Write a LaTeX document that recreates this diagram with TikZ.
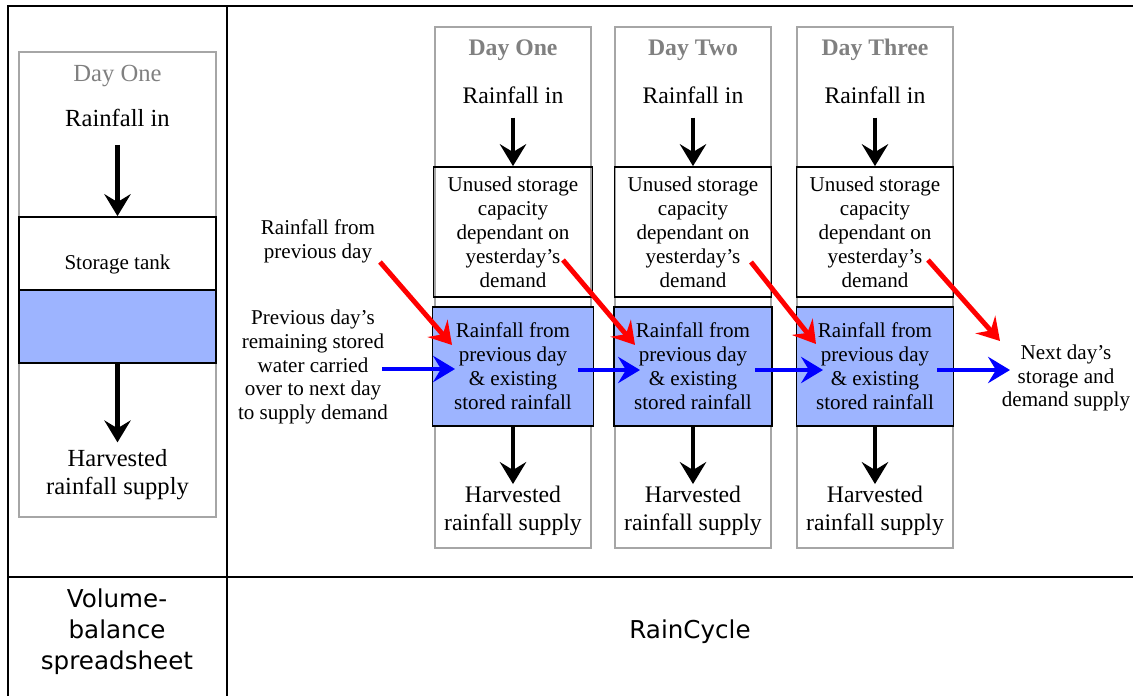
\documentclass[tikz,border=0pt]{standalone}
\usepackage{fontspec}
\setmainfont{Liberation Serif}
\newfontfamily\tablefont{DejaVu Sans}
\usetikzlibrary{arrows.meta}

\definecolor{tankblue}{RGB}{157,180,255}
\definecolor{daygray}{RGB}{128,128,128}

\begin{document}
\begin{tikzpicture}[x=0.02cm,y=-0.02cm]
\tikzstyle{colbox}=[draw=gray!70,line width=1pt,inner sep=0pt]
\tikzstyle{tank}=[draw,line width=1pt,inner sep=0pt]
\tikzstyle{water}=[tank,fill=tankblue]
\tikzstyle{txt}=[align=center,font=\fontsize{13.5}{16}\selectfont,inner sep=1pt]
\tikzstyle{smalltxt}=[align=center,font=\fontsize{12}{13.6}\selectfont,inner sep=1pt]
\tikzstyle{daytitle}=[text=daygray,font=\fontsize{13.5}{16}\selectfont\bfseries]
\tikzstyle{flow}=[line width=2.8pt,-{Stealth[length=12.5pt,width=15pt,inset=4.5pt]}]
\tikzstyle{carry}=[flow,blue]
\tikzstyle{fresh}=[flow,red]
\tikzstyle{cell}=[align=center,font=\tablefont\fontsize{14}{17.6}\selectfont]

\useasboundingbox (0,0) rectangle (1133,696);

% ========= table
\draw [line width=1.1pt] (8,696) -- (8,6) -- (1133,6);
\draw [line width=1.1pt] (227,6) -- (227,696);
\draw [line width=1.1pt] (8,577) -- (1133,577);

% ========= volume-balance tank
\node (vbcol) [colbox, minimum width=3.94cm, minimum height=9.3cm] at (117.5,284.5) {};
\node (vbday) [txt, text=daygray, font=\fontsize{14}{16}\selectfont] at (117.5,76) {Day One};
\node (vbrain) [txt, font=\fontsize{14}{16}\selectfont] at (117.5,118) {Rainfall in};
\node (vbtank) [tank, minimum width=3.94cm, minimum height=1.46cm] at (117.5,253.5) {};
\node (vbtanklabel) [smalltxt] at (117.5,264) {Storage tank};
\node (vbwater) [water, minimum width=3.94cm, minimum height=1.46cm] at (117.5,326.5) {};
\node (vbharv) [txt, font=\fontsize{14}{16}\selectfont] at (117.5,475) {Harvested\\rainfall supply};
\draw [flow] (vbrain.south) ++(0,16) -- (vbtank.north);
\draw [flow, shorten >=3pt] (vbwater.south) -- (vbharv.north);

% ========= day one
\node (col1) [colbox, minimum width=3.12cm, minimum height=10.42cm] at (513,287.5) {};
\node (day1) [daytitle] at (513,50) {Day One};
\node (rain1) [txt] at (513,95) {Rainfall in};
\node (unused1) [tank, smalltxt, minimum width=3.18cm, minimum height=2.6cm] at (513,232) {Unused storage\\capacity\\dependant on\\yesterday’s\\demand};
\node (water1) [water, smalltxt, minimum width=3.22cm, minimum height=2.38cm] at (513,366.5) {Rainfall from\\previous day\\\& existing\\stored rainfall};
\node (harv1) [txt] at (513,511) {Harvested\\rainfall supply};
\draw [flow] (rain1.south) ++(0,12) -- (unused1.north);
\draw [flow] (water1.south) -- (harv1.north);

% ========= day two
\node (col2) [colbox, minimum width=3.12cm, minimum height=10.42cm] at (693,287.5) {};
\node (day2) [daytitle] at (693,50) {Day Two};
\node (rain2) [txt] at (693,95) {Rainfall in};
\node (unused2) [tank, smalltxt, minimum width=3.14cm, minimum height=2.6cm] at (693,232) {Unused storage\\capacity\\dependant on\\yesterday’s\\demand};
\node (water2) [water, smalltxt, minimum width=3.16cm, minimum height=2.38cm] at (693,366.5) {Rainfall from\\previous day\\\& existing\\stored rainfall};
\node (harv2) [txt] at (693,511) {Harvested\\rainfall supply};
\draw [flow] (rain2.south) ++(0,12) -- (unused2.north);
\draw [flow] (water2.south) -- (harv2.north);

% ========= day three
\node (col3) [colbox, minimum width=3.12cm, minimum height=10.42cm] at (875,287.5) {};
\node (day3) [daytitle] at (875,50) {Day Three};
\node (rain3) [txt] at (875,95) {Rainfall in};
\node (unused3) [tank, smalltxt, minimum width=3.14cm, minimum height=2.6cm] at (875,232) {Unused storage\\capacity\\dependant on\\yesterday’s\\demand};
\node (water3) [water, smalltxt, minimum width=3.14cm, minimum height=2.38cm] at (875,366.5) {Rainfall from\\previous day\\\& existing\\stored rainfall};
\node (harv3) [txt] at (875,511) {Harvested\\rainfall supply};
\draw [flow] (rain3.south) ++(0,12) -- (unused3.north);
\draw [flow] (water3.south) -- (harv3.north);

% ====== side labels
\node (prevrain) [smalltxt] at (318,241) {Rainfall from\\previous day};
\node (carried) [smalltxt] at (313,367) {Previous day’s\\remaining stored\\water carried\\over to next day\\to supply demand};
\node (nextday) [smalltxt] at (1066,378) {Next day’s\\storage and\\demand supply};

%% ===== rainfall carried into the next day
\coordinate (rout0) at (380,262);
\coordinate (rin1) at (452,345);
\coordinate (rout1) at (563,260);
\coordinate (rin2) at (635,345);
\coordinate (rout2) at (751,262);
\coordinate (rin3) at (816,344);
\coordinate (rout3) at (928,260);
\coordinate (rnext) at (1000,341);
\draw [fresh] (rout0) -- (rin1);
\draw [fresh] (rout1) -- (rin2);
\draw [fresh] (rout2) -- (rin3);
\draw [fresh] (rout3) -- (rnext);

%% ===== stored water carried over
\coordinate (bout0) at (382,369);
\coordinate (bin1) at (455,369);
\coordinate (bout1) at (578,370);
\coordinate (bin2) at (640,370);
\coordinate (bout2) at (755,370);
\coordinate (bin3) at (823,370);
\coordinate (bout3) at (937,370);
\coordinate (bnext) at (1010,370);
\draw [carry] (bout0) -- (bin1);
\draw [carry] (bout1) -- (bin2);
\draw [carry] (bout2) -- (bin3);
\draw [carry] (bout3) -- (bnext);

% ========= method names
\node (vblabel) [cell] at (117,632) {Volume-\\balance\\spreadsheet};
\node (rclabel) [cell] at (690,632) {RainCycle};
\end{tikzpicture}
\end{document}
